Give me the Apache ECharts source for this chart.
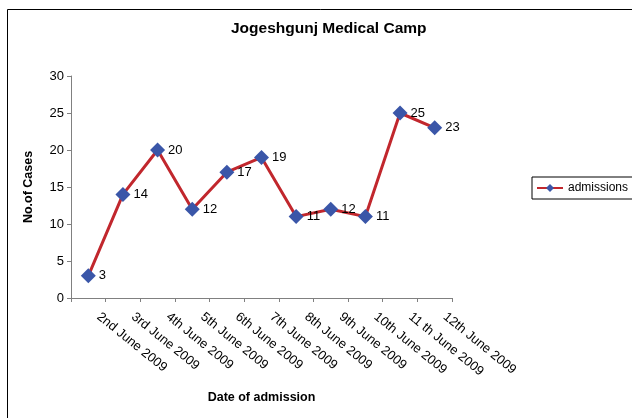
<!DOCTYPE html>
<html>
<head>
<meta charset="utf-8">
<script src="https://cdn.jsdelivr.net/npm/echarts@6/dist/echarts.min.js"></script>
<style>
  html, body { margin: 0; padding: 0; background: #fff; }
  #chart { width: 632px; height: 418px; }
</style>
</head>
<body>
<div id="chart"></div>
<script>
// Daily admissions at the camp
const dates = ['2nd June 2009', '3rd June 2009', '4th June 2009', '5th June 2009', '6th June 2009',
  '7th June 2009', '8th June 2009', '9th June 2009', '10th June 2009', '11 th June 2009', '12th June 2009'];
const admissions = [3, 14, 20, 12, 17, 19, 11, 12, 11, 25, 23];
const yTicks = [0, 5, 10, 15, 20, 25, 30];

const font = '"Liberation Sans", Arial, sans-serif';
const lineColor = '#c1272d';
const markerColor = '#3a56a8';

const chart = echarts.init(document.getElementById('chart'), null, { renderer: 'canvas' });
chart.setOption({
  animation: false,
  backgroundColor: '#fff',
  textStyle: { fontFamily: font },
  graphic: [{
    type: 'rect',
    shape: { x: 7.5, y: 9.5, width: 640, height: 430 },
    style: { fill: 'none', stroke: '#000', lineWidth: 1 },
    silent: true
  }],
  title: {
    text: 'Jogeshgunj Medical Camp',
    left: 231, top: 21,
    padding: 0,
    textStyle: { fontFamily: font, fontSize: 15.5, fontWeight: 'bold', color: '#000' }
  },
  legend: {
    data: ['admissions'],
    left: 532, top: 177,
    orient: 'vertical',
    padding: [5, 30, 5, 4],
    borderColor: '#000', borderWidth: 1,
    itemWidth: 26, itemHeight: 10, itemGap: 4,
    textStyle: { fontFamily: font, fontSize: 12, color: '#000' }
  },
  grid: { left: 71, right: 180, top: 76, bottom: 120, containLabel: false },
  xAxis: {
    type: 'category',
    data: dates,
    boundaryGap: true,
    name: 'Date of admission',
    nameLocation: 'middle',
    nameGap: 93,
    nameTextStyle: { fontFamily: font, fontSize: 12.5, fontWeight: 'bold', color: '#000' },
    axisLine: { lineStyle: { color: '#808080', width: 1 } },
    axisTick: { show: true, alignWithLabel: false, length: 4, lineStyle: { color: '#808080' } },
    axisLabel: {
      rotate: -39, margin: 9, padding: [0, 0, 0, 13],
      fontFamily: font, fontSize: 13, color: '#000',
      interval: 0
    },
    splitLine: { show: false }
  },
  yAxis: {
    type: 'value',
    min: yTicks[0], max: yTicks[yTicks.length - 1], interval: 5,
    name: 'No.of Cases',
    nameLocation: 'middle',
    nameGap: 36,
    nameRotate: 90,
    nameTextStyle: { fontFamily: font, fontSize: 12.5, fontWeight: 'bold', color: '#000' },
    axisLine: { show: true, lineStyle: { color: '#808080', width: 1 } },
    axisTick: { show: true, length: 4, lineStyle: { color: '#808080' } },
    axisLabel: { margin: 7, fontFamily: font, fontSize: 13, color: '#000' },
    splitLine: { show: false }
  },
  series: [{
    name: 'admissions',
    type: 'line',
    data: admissions,
    symbol: 'diamond',
    symbolSize: 15,
    lineStyle: { color: lineColor, width: 3 },
    itemStyle: { color: markerColor },
    label: {
      show: true, position: 'right', distance: 3,
      fontFamily: font, fontSize: 13, color: '#000'
    }
  }]
});
</script>
</body>
</html>
